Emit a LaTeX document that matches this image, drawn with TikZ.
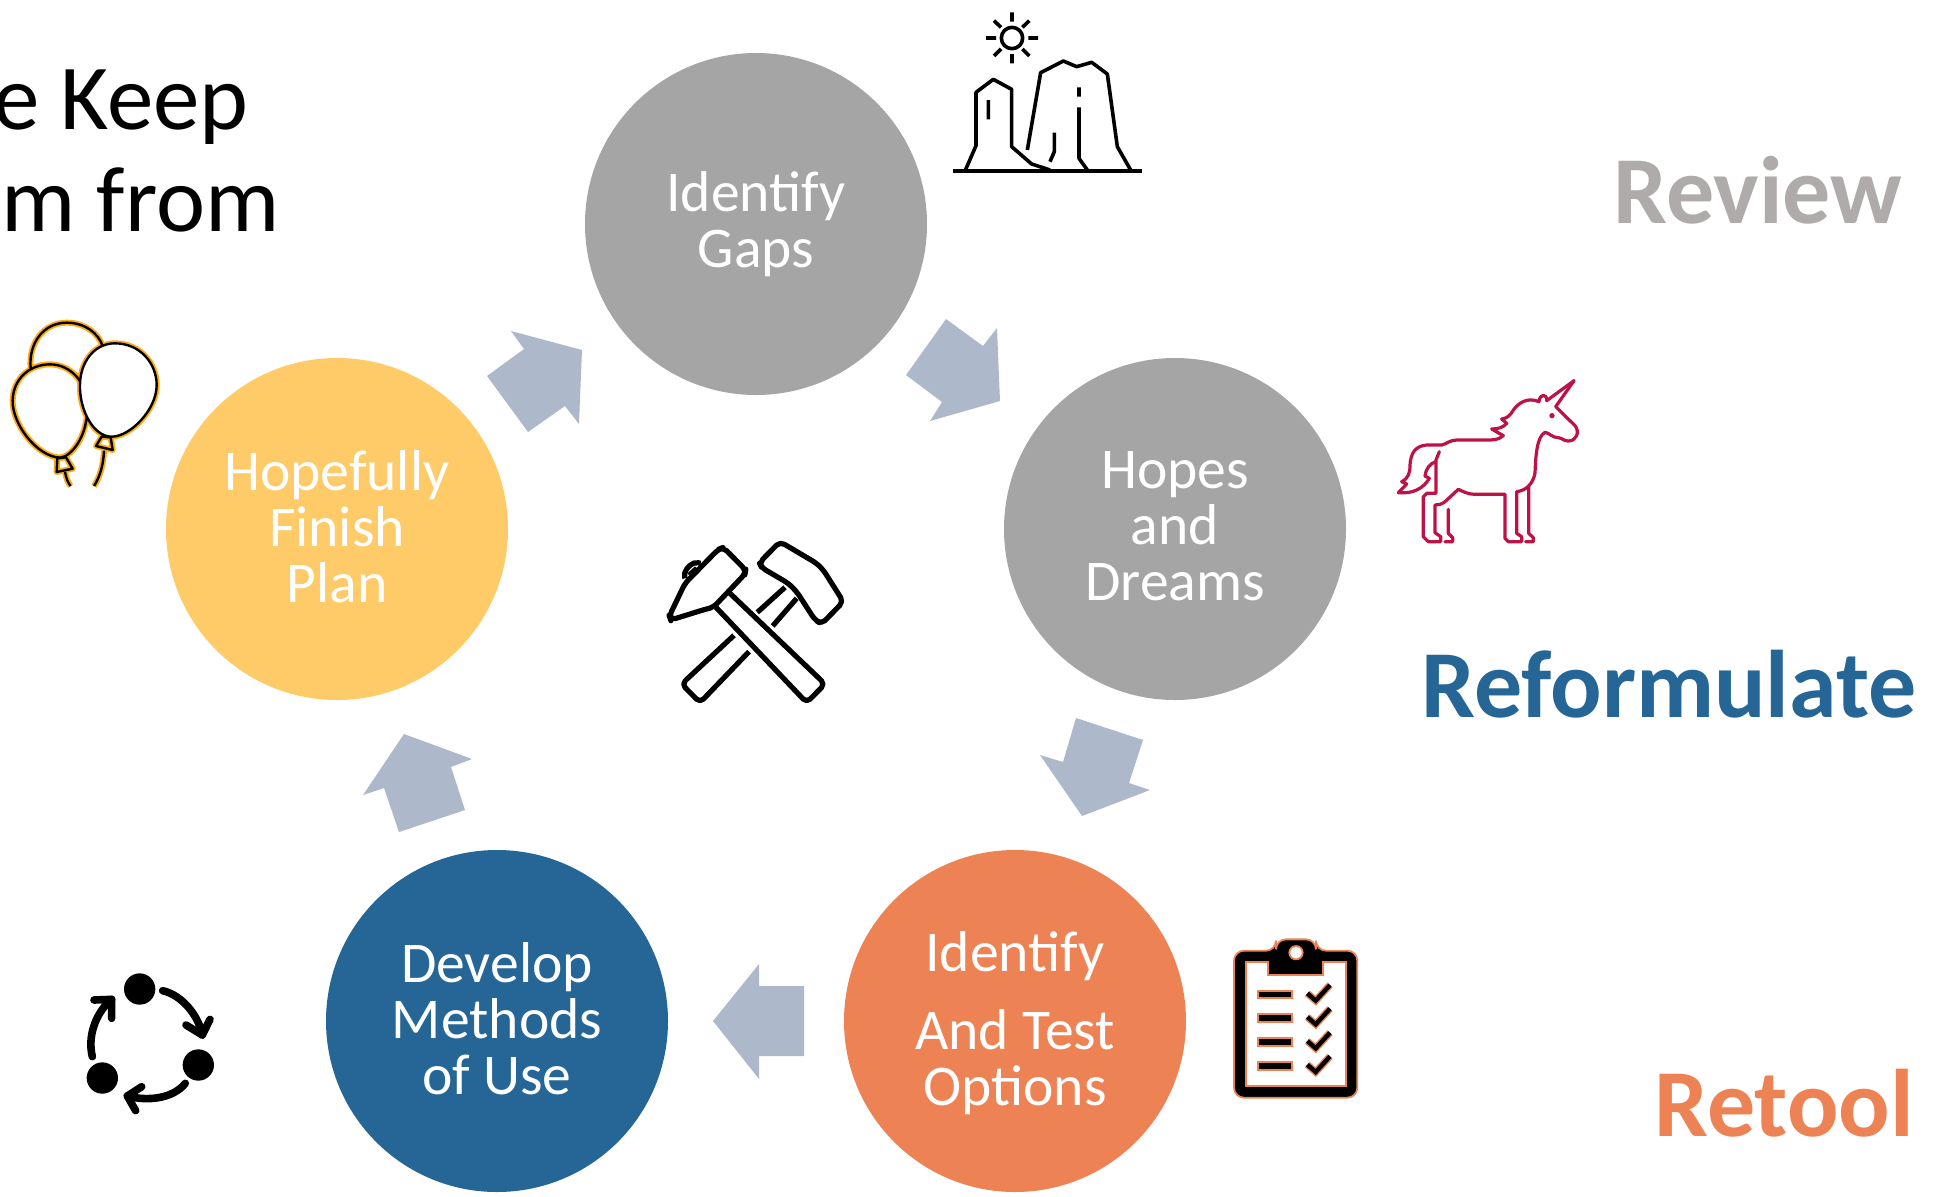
\documentclass[tikz,border=0pt]{standalone}
\usepackage{fontspec}
\setmainfont{Carlito}
\definecolor{cgray}{HTML}{A5A5A5}
\definecolor{cyel}{HTML}{FFCA68}
\definecolor{cblue}{HTML}{266696}
\definecolor{corg}{HTML}{ED8354}
\definecolor{carrow}{HTML}{ADB9CA}
\definecolor{crev}{HTML}{AFABAB}
\definecolor{cball}{HTML}{FFAA14}
\definecolor{cuni}{HTML}{BE1145}
\newcommand{\lowstrut}{\rule[-2.6pt]{0pt}{0pt}}
\tikzset{
  stepnode/.style={circle,minimum size=171pt,inner sep=0pt,text=white,align=center,font=\fontsize{28.8}{28}\selectfont},
  blockarrow/.style={fill=carrow,draw=none},
  headword/.style={anchor=base west,inner sep=0pt,font=\fontsize{48}{50}\selectfont\bfseries},
  titleword/.style={anchor=base east,inner sep=0pt,font=\fontsize{46.5}{50}\selectfont},
  iconline/.style={line width=1.8pt,line join=round,line cap=butt},
}
\begin{document}
\begin{tikzpicture}[x=0.5pt,y=-0.5pt]
\useasboundingbox (0,0) rectangle (1934,1196);
\clip (0,0) rectangle (1934,1196);
% circles
\node[stepnode,fill=cgray] (gaps) at (756,224) {Identify\\Gaps};
\node[stepnode,fill=cgray] (hopes) at (1175,529) {Hopes\\and\\Dreams\lowstrut};
\node[stepnode,fill=cyel] (finish) at (337,529) {Hopefully\\Finish\\Plan\lowstrut};
\node[stepnode,fill=cblue] (dev) at (497,1021) {Develop\\Methods\\of Use\lowstrut};
\node[stepnode,fill=corg] (opts) at (1015,1021) {\rule{0pt}{22.6pt}Identify\\[11pt]And Test\\Options};
% block arrows
\fill[blockarrow] (511,331)--(582,350)--(579,424)--(565,406)--(528,432)--(487,376)--(524,349)--cycle;
\fill[blockarrow] (946,319)--(983,346)--(997,328)--(1000,401)--(930,421)--(942,402)--(906,375)--cycle;
\fill[blockarrow] (1076,718)--(1143,740)--(1129,783)--(1150,790)--(1082,816)--(1040,755)--(1063,762)--cycle;
\fill[blockarrow] (713,1021)--(759,964)--(759,986)--(804,986)--(804,1056)--(759,1056)--(759,1079)--cycle;
\fill[blockarrow] (404,734)--(472,759)--(451,767)--(465,810)--(399,832)--(384,788)--(363,795)--cycle;
% words
\node[headword,text=crev] (review) at (1613,223) {Review};
\node[headword,text=cblue] (reform) at (1421,717) {Reformulate};
\node[headword,text=corg] (retool) at (1654,1136) {Retool};
\node[titleword] (t1) at (249,129) {e Keep};
\node[titleword] (t2) at (280,231) {m from};
% mesa
\begin{scope}[shift={(930,0)},scale=1/3,iconline]
\draw (68,513)--(637,513);
\draw (105,513)--(138,437)--(138,277)--(190,238)--(245,268)--(245,440)--(305,492)--(360,510);
\draw (292,450)--(332,218)--(400,183)--(440,200)--(485,187)--(532,222)--(562,440)--(602,510);
\draw (175,300)--(175,358) (447,262)--(447,290) (447,322)--(447,475)--(472,510) (373,398)--(373,455)--(360,485);
\draw (246,114) circle[radius=32];
\draw (246,37)--(246,65) (246,162)--(246,190) (168,114)--(198,114) (295,114)--(324,114)
 (192,62)--(213,82) (298,62)--(277,82) (192,168)--(213,147) (298,168)--(277,147);
\end{scope}
% balloons
\begin{scope}[shift={(0,310)},scale=1/3,line join=round]
\foreach \c/\w in {cball/3pt,black/1.2pt}{
\draw[\c,line width=\w] (92,175) .. controls (85,100) and (130,38) .. (200,38) .. controls (255,38) and (295,70) .. (308,108);
\draw[\c,line width=\w] (195,485) .. controls (198,505) and (205,520) .. (212,528);
\draw[\c,line width=\w] (312,422) .. controls (310,470) and (297,505) .. (282,528);
\draw[\c,line width=\w] (150,163) .. controls (210,163) and (265,215) .. (262,300) .. controls (260,380) and (215,440) .. (180,443) .. controls (110,440) and (35,340) .. (38,270) .. controls (40,205) and (90,163) .. (150,163) -- cycle;
\draw[\c,line width=\w,fill=white] (345,100) .. controls (420,100) and (470,160) .. (470,225) .. controls (470,300) and (390,380) .. (335,380) .. controls (280,380) and (238,300) .. (240,225) .. controls (240,160) and (280,100) .. (345,100) -- cycle;
\draw[\c,line width=\w] (172,445)--(198,442)--(218,476)--(170,486)--cycle;
\draw[\c,line width=\w] (305,380)--(332,382)--(338,420)--(288,408)--cycle;
}
\end{scope}
% unicorn
\begin{scope}[shift={(1390,370)},scale=1/3,line width=1.6pt,draw=cuni,line join=round,line cap=round]
\draw (552,32)--(497,110)--(555,167) .. controls (570,185) and (560,213) .. (535,213) .. controls (520,213) and (520,205) .. (505,203) .. controls (485,203) and (478,188) .. (465,187) .. controls (440,200) and (437,260) .. (435,310) .. controls (428,345) and (405,362) .. (380,365) -- (380,490) -- (395,500) -- (395,515) -- (355,515) -- (345,505) -- (345,373) -- (255,373) .. controls (235,373) and (220,365) .. (205,358) -- (165,395) .. controls (155,403) and (145,405) .. (135,405) -- (135,488) -- (152,500) -- (152,515) -- (115,515) -- (100,500) -- (100,380) -- (110,370) -- (138,370) -- (138,270) -- (148,245);
\draw (552,32)--(470,92) .. controls (472,72) and (450,68) .. (447,95) .. controls (410,80) and (385,100) .. (370,120) .. controls (360,138) and (350,145) .. (335,147) -- (350,160) .. controls (340,172) and (325,177) .. (305,177) -- (340,197) .. controls (325,210) and (310,210) .. (290,210) -- (200,210) .. controls (180,210) and (170,222) .. (155,225) -- (110,225) .. controls (75,228) and (62,250) .. (60,285) .. controls (60,310) and (55,325) .. (35,335) -- (50,342) -- (25,368) .. controls (70,372) and (100,355) .. (118,325) -- (105,318) .. controls (108,295) and (120,280) .. (138,275);
\draw (175,418)--(175,490)--(188,503)--(188,515)--(165,515);
\draw (416,350)--(416,490)--(430,503)--(430,515)--(407,515);
\fill[cuni] (486,137) circle[radius=8];
\end{scope}
% hammers
\begin{scope}[shift={(660,530)},scale=1/3,line width=2.6pt,line join=round,line cap=butt,rounded corners=2.5pt]
\draw (75,160)--(175,58)--(190,52)--(257,120)--(255,132)--(160,232)--(135,238)--(32,270)--(28,258)--cycle;
\draw (75,145)--(70,128)--(100,95)--(122,100);
\draw[line width=1.4pt] (85,133)--(108,112);
\draw (210,190)--(495,462)--(440,518)--(168,232);
\draw (385,160)--(305,113)--(298,98)--(360,35)--(470,100)--(490,120)--(550,215)--(485,282)--(465,270)--(410,185)--cycle;
\draw (375,172)--(292,247) (410,205)--(338,288);
\draw (222,316)--(65,462)--(120,518)--(267,365);
\end{scope}
% cycle icon
\begin{scope}[shift={(70,960)},scale=1/3,line width=3.8pt,line cap=round,line join=round]
\fill (209,87) circle[radius=47] (385,315) circle[radius=47] (97,354) circle[radius=47];
\draw (278,92) .. controls (335,105) and (385,165) .. (397,225);
\draw (348,195)--(397,225)--(420,178);
\draw (346,370) .. controls (310,415) and (235,425) .. (172,408);
\draw (215,380)--(172,408)--(197,452);
\draw (67,290) .. controls (50,220) and (85,150) .. (125,118);
\draw (72,120)--(125,118)--(125,175);
\end{scope}
% clipboard
\begin{scope}[shift={(1220,930)},scale=1/3]
\draw[corg,line width=0.9pt,fill=black,rounded corners=5pt] (42,503) -- (42,62) -- (168,62) -- (168,28) -- (288,28) -- (288,62) -- (412,62) -- (412,503) -- cycle;
\draw[corg,line width=0.9pt,fill=white] (228,68) circle[radius=20];
\draw[corg,line width=0.9pt,fill=white] (78,97) -- (145,97) -- (145,135) -- (310,135) -- (310,97) -- (378,97) -- (378,468) -- (78,468) -- cycle;
\foreach \y in {0,71,143,214}{
\draw[corg,line width=0.9pt,fill=black] (115,182+\y) rectangle (215,205+\y);
\draw[corg,line width=3.6pt,line join=miter] (262,190+\y)--(287,212+\y)--(330,165+\y);
\draw[black,line width=2.2pt,line join=miter] (262,190+\y)--(287,212+\y)--(330,165+\y);
}
\end{scope}
\end{tikzpicture}
\end{document}
